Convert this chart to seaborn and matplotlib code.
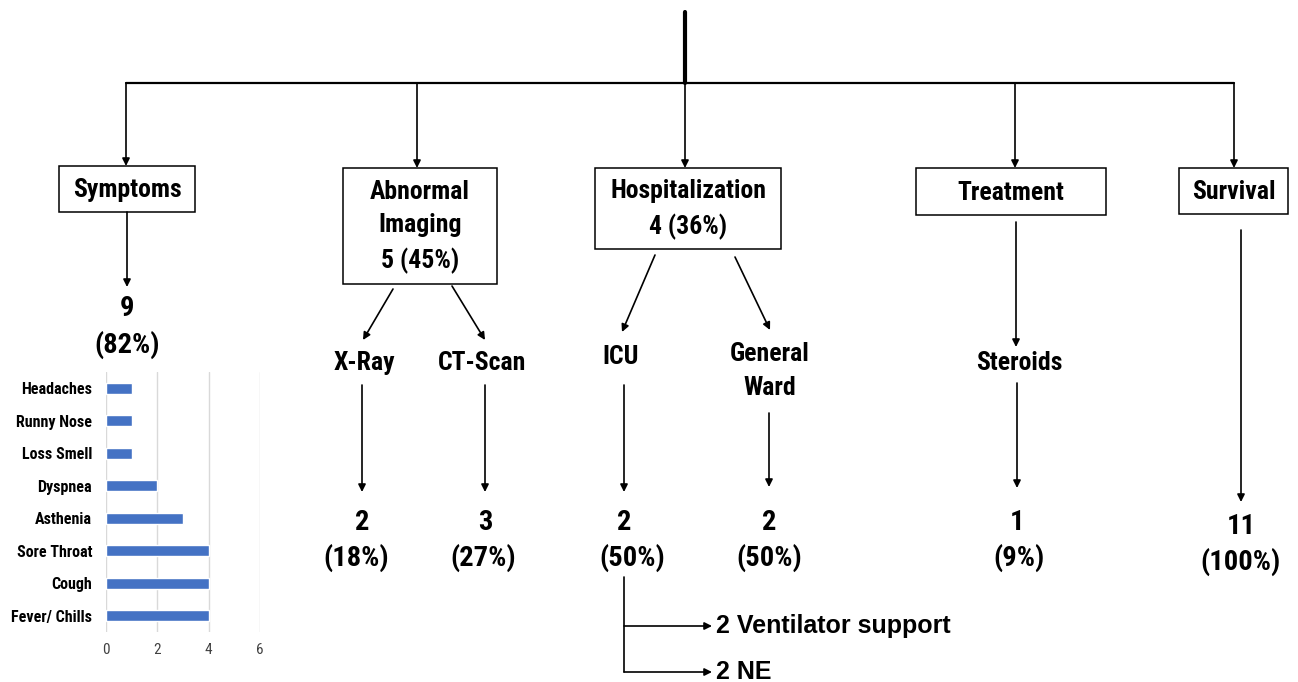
import matplotlib
matplotlib.use("Agg")
import matplotlib.pyplot as plt
import seaborn as sns
import pandas as pd

# --- data ---
symptoms = ["Headaches", "Runny Nose", "Loss Smell", "Dyspnea", "Asthenia",
            "Sore Throat", "Cough", "Fever/ Chills"]
symptom_counts = [1, 1, 1, 2, 3, 4, 4, 4]

categories = ["Symptoms", "Abnormal\nImaging\n5 (45%)", "Hospitalization\n4 (36%)",
              "Treatment", "Survival"]
sub_labels = ["X-Ray", "CT-Scan", "ICU", "General\nWard", "Steroids"]
sub_counts = [2, 3, 2, 2, 1]
sub_pcts = ["(18%)", "(27%)", "(50%)", "(50%)", "(9%)"]
symptom_total = (9, "(82%)")
survival_total = (11, "(100%)")
icu_outcomes = ["2 Ventilator support", "2 NE"]

sns.set_theme(style="white")
FONT = ["Liberation Sans Narrow", "Roboto Condensed", "DejaVu Sans"]
plt.rcParams["font.family"] = FONT
plt.rcParams["text.color"] = "black"

fig = plt.figure(figsize=(12.98, 6.82), dpi=100)
ax = fig.add_axes([0, 0, 1, 1])
ax.set_xlim(0, 1298)
ax.set_ylim(682, 0)
ax.axis("off")


def arrow(x0, y0, x1, y1):
    ax.annotate("", xy=(x1, y1), xytext=(x0, y0),
                arrowprops=dict(arrowstyle="-|>", color="black", lw=1.2,
                                mutation_scale=11, shrinkA=0, shrinkB=0))


def box(x0, y0, x1, y1, text):
    ax.add_patch(plt.Rectangle((x0, y0), x1 - x0, y1 - y0, fill=False,
                               edgecolor="black", lw=1.1))
    ax.text((x0 + x1) / 2, (y0 + y1) / 2 + 1, text, ha="center", va="center",
            fontsize=18.5, fontweight="bold", linespacing=1.5, color="black")


def label(x, y, text, size=18.5):
    ax.text(x, y, text, ha="center", va="center", fontsize=size,
            fontweight="bold", linespacing=1.5, color="black")


# trunk
ax.plot([685, 685], [12, 83], color="black", lw=3)
ax.plot([126, 1234], [83, 83], color="black", lw=1.6)

# main boxes
box_specs = [(59, 166, 195, 212), (343, 168, 497, 284), (595, 168, 781, 249),
             (916, 168, 1106, 215), (1179, 168, 1288, 214)]
drops = [126, 417, 685, 1015, 1234]
for (x0, y0, x1, y1), cx, txt in zip(box_specs, drops, categories):
    arrow(cx, 83, cx, y0)
    box(x0, y0, x1, y1, txt)

# symptoms branch
arrow(127, 212, 127, 287)
label(127, 309, str(symptom_total[0]), 20.5)
label(127, 345, symptom_total[1], 20.5)

# imaging branch
arrow(393, 289, 363, 340)
arrow(452, 286, 485, 340)
# hospitalization branch
arrow(655, 255, 622, 332)
arrow(735, 257, 770, 330)
# treatment branch
arrow(1016, 222, 1016, 347)
# survival
arrow(1241, 230, 1241, 502)

sub_pos = [(364, 363), (482, 363), (621, 357), (770, 371), (1019, 363)]
sub_arrow = [(362, 385, 492), (485, 385, 492), (624, 385, 492),
             (769, 413, 487), (1017, 383, 488)]
num_x = [362, 485, 624, 769, 1017]
pct_x = [356, 483, 632, 769, 1019]
for (sx, sy), (ax_, ya, yb), nx, px, lab, n, p in zip(
        sub_pos, sub_arrow, num_x, pct_x, sub_labels, sub_counts, sub_pcts):
    label(sx, sy, lab)
    arrow(ax_, ya, ax_, yb)
    label(nx, 522, str(n), 20.5)
    label(px, 558, p, 20.5)

label(1241, 527, str(survival_total[0]), 20.5)
label(1241, 562, survival_total[1], 20.5)

# ICU outcomes
ax.plot([624, 624], [577, 672], color="black", lw=1.2)
for y, txt in zip([626, 672], icu_outcomes):
    arrow(624, y, 712, y)
    ax.text(716, y, txt, ha="left", va="center", fontsize=18,
            fontweight="bold", color="black",
            family=["Liberation Sans", "DejaVu Sans"])

# --- symptom bar chart ---
axb = fig.add_axes([106 / 1298, 1 - 632 / 682, 154 / 1298, 260 / 682])
df = pd.DataFrame({"symptom": symptoms, "count": symptom_counts})
sns.barplot(data=df, x="count", y="symptom", orient="h", color="#4472C4",
            width=0.35, ax=axb, saturation=1)
axb.set_xlim(0, 6)
axb.set_ylim(7.5, -0.5)
axb.set_xticks([0, 2, 4, 6])
axb.set_xlabel("")
axb.set_ylabel("")
axb.grid(axis="x", color="#d9d9d9", lw=1)
axb.set_axisbelow(True)
for s in axb.spines.values():
    s.set_visible(False)
axb.patch.set_alpha(0)
axb.tick_params(axis="both", length=0)
axb.tick_params(axis="x", labelsize=11, colors="#404040", pad=8)
axb.tick_params(axis="y", pad=10)
for t in axb.get_yticklabels():
    t.set_fontsize(11.5)
    t.set_fontweight("bold")
    t.set_color("black")

fig.savefig("out.png", dpi=100)
